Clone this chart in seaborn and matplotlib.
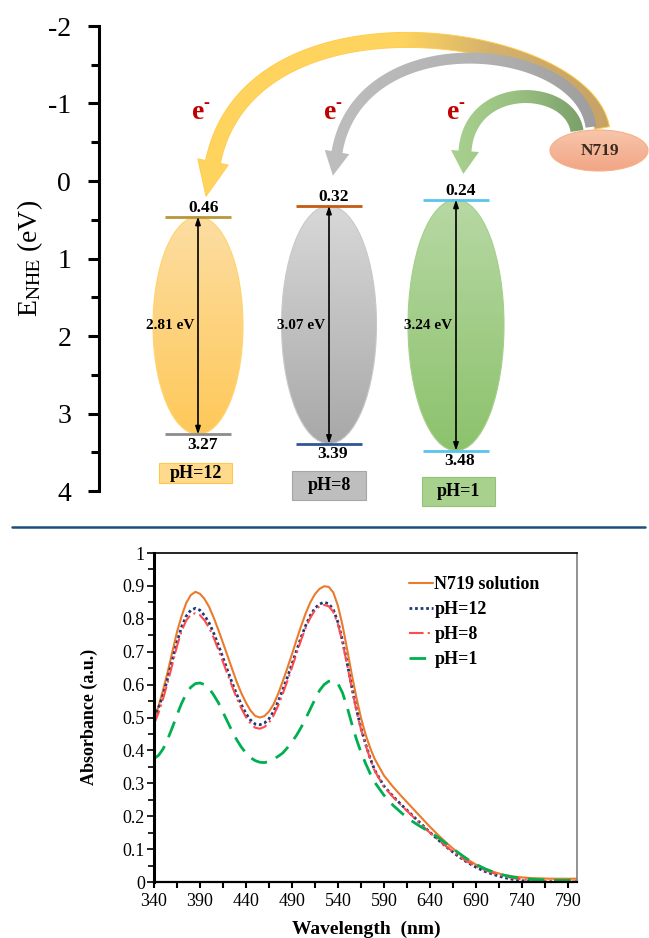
import numpy as np
import pandas as pd
import matplotlib
matplotlib.use("Agg")
import matplotlib.pyplot as plt
import seaborn as sns
import matplotlib.colors as mcolors
from matplotlib.patches import Ellipse, Rectangle, Polygon
from matplotlib.lines import Line2D
from matplotlib.ticker import FixedLocator, MultipleLocator

# ------------------------------------------------------------------ data
# band-edge diagram
phases = ["pH=12", "pH=8", "pH=1"]
cb_edges = [0.46, 0.32, 0.24]
vb_edges = [3.27, 3.39, 3.48]
gap_labels = ["2.81 eV", "3.07 eV", "3.24 eV"]
cb_text = ["0.46", "0.32", "0.24"]
vb_text = ["3.27", "3.39", "3.48"]
energy_ticks = [-2, -1, 0, 1, 2, 3, 4]
energy_tick_labels = ["-2", "-1", "0", "1", "2", "3", "4"]
dye_name = "N719"

# absorption spectra
wavelength = list(range(340, 585, 5)) + list(range(590, 810, 10))
abs_n719 = [0.490, 0.535, 0.585, 0.640, 0.700, 0.760, 0.808, 0.848, 0.872, 0.882,
            0.876, 0.860, 0.836, 0.803, 0.766, 0.727, 0.687, 0.647, 0.608, 0.574,
            0.545, 0.521, 0.505, 0.500, 0.504, 0.518, 0.540, 0.572, 0.610, 0.650,
            0.692, 0.736, 0.778, 0.817, 0.850, 0.875, 0.891, 0.899, 0.897, 0.880,
            0.840, 0.780, 0.708, 0.632, 0.562, 0.500, 0.449, 0.408, 0.374,
            0.324, 0.289, 0.258, 0.228, 0.198, 0.168, 0.140, 0.114, 0.090, 0.070,
            0.053, 0.040, 0.030, 0.022, 0.017, 0.014, 0.012, 0.011, 0.010, 0.010, 0.010, 0.010]
abs_ph12 = [0.500, 0.530, 0.570, 0.620, 0.675, 0.730, 0.775, 0.808, 0.826, 0.832,
            0.826, 0.810, 0.787, 0.756, 0.720, 0.682, 0.643, 0.605, 0.570, 0.539,
            0.512, 0.492, 0.480, 0.478, 0.483, 0.496, 0.518, 0.548, 0.584, 0.622,
            0.662, 0.703, 0.744, 0.780, 0.810, 0.832, 0.845, 0.850, 0.846, 0.828,
            0.790, 0.733, 0.666, 0.594, 0.527, 0.468, 0.420, 0.377, 0.340,
            0.292, 0.260, 0.232, 0.205, 0.178, 0.151, 0.126, 0.102, 0.080, 0.061,
            0.045, 0.032, 0.022, 0.014, 0.008, 0.004, 0.002, 0.001, 0.000, 0.000, 0.000, 0.000]
abs_ph8 = [0.480, 0.515, 0.558, 0.608, 0.662, 0.717, 0.763, 0.795, 0.812, 0.817,
           0.811, 0.795, 0.772, 0.742, 0.706, 0.669, 0.631, 0.594, 0.559, 0.528,
           0.501, 0.482, 0.469, 0.466, 0.471, 0.484, 0.506, 0.536, 0.572, 0.611,
           0.652, 0.694, 0.736, 0.773, 0.803, 0.826, 0.838, 0.842, 0.838, 0.821,
           0.784, 0.728, 0.661, 0.590, 0.523, 0.465, 0.417, 0.375, 0.338,
           0.290, 0.258, 0.230, 0.203, 0.176, 0.150, 0.126, 0.103, 0.082, 0.063,
           0.048, 0.036, 0.026, 0.018, 0.012, 0.008, 0.006, 0.004, 0.003, 0.003, 0.003, 0.003]
abs_ph1 = [0.375, 0.385, 0.405, 0.435, 0.470, 0.508, 0.543, 0.572, 0.592, 0.603,
           0.605, 0.600, 0.588, 0.568, 0.545, 0.516, 0.487, 0.458, 0.432, 0.410,
           0.392, 0.378, 0.369, 0.364, 0.363, 0.366, 0.373, 0.382, 0.392, 0.408,
           0.426, 0.446, 0.470, 0.497, 0.526, 0.555, 0.582, 0.600, 0.610, 0.612,
           0.603, 0.575, 0.532, 0.482, 0.435, 0.395, 0.361, 0.330, 0.303,
           0.264, 0.233, 0.208, 0.186, 0.168, 0.152, 0.133, 0.112, 0.091, 0.071,
           0.054, 0.040, 0.029, 0.021, 0.015, 0.011, 0.008, 0.007, 0.006, 0.005, 0.005, 0.005]
series_names = ["N719 solution", "pH=12", "pH=8", "pH=1"]
x_ticks = [340, 390, 440, 490, 540, 590, 640, 690, 740, 790]
x_tick_labels = ["340", "390", "440", "490", "540", "590", "640", "690", "740", "790"]
y_ticks = [0, 0.1, 0.2, 0.3, 0.4, 0.5, 0.6, 0.7, 0.8, 0.9, 1.0]
y_tick_labels = ["0", "0.1", "0.2", "0.3", "0.4", "0.5", "0.6", "0.7", "0.8", "0.9", "1"]

# ------------------------------------------------------------------ style
sns.set_style("ticks")
plt.rcParams["font.family"] = ["Liberation Serif", "DejaVu Serif"]
plt.rcParams["mathtext.fontset"] = "stix"
plt.rcParams.update({"text.color": "black", "axes.labelcolor": "black",
                     "xtick.color": "black", "ytick.color": "black"})

W, H = 649, 938
fig = plt.figure(figsize=(W / 100, H / 100), dpi=100)


def fx(px):
    return px / W


def fy(py):
    return 1 - py / H


def gradient_in(ax, patch, stops, extent, horizontal=False, z=1.0):
    pos = [s[0] for s in stops]
    cols = np.array([mcolors.to_rgb(s[1]) for s in stops])
    t = np.linspace(0, 1, 256)
    rgb = np.stack([np.interp(t, pos, cols[:, k]) for k in range(3)], axis=-1)
    if horizontal:
        img = np.repeat(rgb[None, :, :], 2, axis=0)
    else:
        img = np.repeat(rgb[:, None, :], 2, axis=1)
    im = ax.imshow(img, extent=extent, origin="upper", aspect="auto",
                   interpolation="bilinear", zorder=z)
    im.set_clip_path(patch)
    return im


# ------------------------------------------------------------------ top: band diagram
ax1 = fig.add_axes([fx(99), fy(491), (W - 99) / W, (491 - 26) / H])
ax1.set_xlim(99, 649)
ax1.set_ylim(4, -2)
for s in ["top", "right", "bottom"]:
    ax1.spines[s].set_visible(False)
ax1.spines["left"].set_linewidth(2.2)
ax1.spines["left"].set_color("black")
ax1.set_xticks([])
ax1.yaxis.set_major_locator(FixedLocator(energy_ticks))
ax1.set_yticklabels(energy_tick_labels, fontsize=20)
ax1.yaxis.set_minor_locator(MultipleLocator(0.5))
ax1.tick_params(axis="y", which="major", direction="out", length=8, width=2.2, pad=12)
ax1.tick_params(axis="y", which="minor", direction="out", length=6, width=2.2)
fig.text(fx(30), fy(258), r"E$_{\mathrm{NHE}}$ (eV)", rotation=90,
         ha="center", va="center", fontsize=20)

# layout of the three columns (pixel-like x units)
col_x = [198, 329, 456]
ell_w = [90, 95, 96]
lab_x = [204, 334, 461]
ell_stops = [[(0, "#FCDDA2"), (1, "#FFC95A")],
             [(0, "#D8D8D8"), (1, "#A8A8A8")],
             [(0, "#B7D8A4"), (1, "#8CC26C")]]
ell_edge = ["#FFD46E", "#C8C8C8", "#A4CF88"]
cb_color = ["#B8963A", "#C55A11", "#5CC3EC"]
vb_color = ["#8C8C8C", "#2F5597", "#5CC3EC"]
box_xy = [(159, 3.64, 73, 0.26), (292, 3.74, 74, 0.38), (422, 3.82, 73, 0.37)]
box_fc = ["#FFD98C", "#BEBEBE", "#A9D18E"]
box_ec = ["#FFC84A", "#A6A6A6", "#92C274"]

for i in range(3):
    cx, cb, vb = col_x[i], cb_edges[i], vb_edges[i]
    ell = Ellipse((cx, (cb + vb) / 2), width=ell_w[i], height=vb - cb,
                  facecolor="none", edgecolor=ell_edge[i], lw=0.8, zorder=2)
    ax1.add_patch(ell)
    gradient_in(ax1, ell, ell_stops[i],
                (cx - ell_w[i] / 2, cx + ell_w[i] / 2, vb, cb), z=1.5)
    ax1.hlines(cb, cx - 33, cx + 33, colors=cb_color[i], lw=2, zorder=3)
    ax1.hlines(vb, cx - 33, cx + 33, colors=vb_color[i], lw=2, zorder=3)
    ax1.annotate("", xy=(cx, vb), xytext=(cx, cb),
                 arrowprops=dict(arrowstyle="<|-|>,head_length=0.45,head_width=0.15",
                                 lw=1.2, color="black", shrinkA=0, shrinkB=0),
                 zorder=4)
    ax1.text(lab_x[i], cb - 0.01, cb_text[i], ha="center", va="bottom",
             fontsize=12.5, fontweight="bold", zorder=5)
    ax1.text(lab_x[i] - 1, vb + 0.03, vb_text[i], ha="center", va="top",
             fontsize=12.5, fontweight="bold", zorder=5)
    ax1.text(cx - 4, 1.87, gap_labels[i], ha="right", va="center",
             fontsize=11, fontweight="bold", zorder=5)
    bx, by, bw, bh = box_xy[i]
    ax1.add_patch(Rectangle((bx, by), bw, bh, facecolor=box_fc[i],
                            edgecolor=box_ec[i], lw=0.8, zorder=2, clip_on=False))
    ax1.text(bx + bw / 2, by + bh / 2, phases[i], ha="center", va="center",
             fontsize=13, fontweight="bold", zorder=5, clip_on=False)

# electron labels  e^-
for ex in [198, 330, 453]:
    ax1.text(ex, -0.88, "e", ha="center", va="center", fontsize=20,
             fontweight="bold", color="#C00000", zorder=7)
    ax1.text(ex + 8, -1.0, "-", ha="center", va="center", fontsize=13,
             fontweight="bold", color="#C00000", zorder=7)

ax1.set_xlim(99, 649)
ax1.set_ylim(4, -2)

# ------------------------------------------------------------------ overlay (pixel units) for arrows + dye
axo = fig.add_axes([0, 0, 1, 1])
axo.set_xlim(0, W)
axo.set_ylim(H, 0)
axo.axis("off")
axo.patch.set_alpha(0)


def curved_arrow(ax, ctrl, width, head_w, head_len, stops, edge, z):
    P = np.array(ctrl, float)
    t = np.linspace(0, 1, 240)[:, None]
    c = ((1 - t) ** 3) * P[0] + 3 * ((1 - t) ** 2) * t * P[1] \
        + 3 * (1 - t) * t ** 2 * P[2] + t ** 3 * P[3]
    d = 3 * (1 - t) ** 2 * (P[1] - P[0]) + 6 * (1 - t) * t * (P[2] - P[1]) \
        + 3 * t ** 2 * (P[3] - P[2])
    d = d / np.linalg.norm(d, axis=1)[:, None]
    nrm = np.column_stack([-d[:, 1], d[:, 0]])
    left = c + nrm * width / 2
    right = c - nrm * width / 2
    tip = P[3] + d[-1] * head_len
    hl = P[3] + nrm[-1] * head_w / 2
    hr = P[3] - nrm[-1] * head_w / 2
    poly = np.vstack([left, hl, tip, hr, right[::-1]])
    patch = Polygon(poly, closed=True, facecolor="none", edgecolor=edge,
                    lw=0.7, zorder=z)
    ax.add_patch(patch)
    x0, x1 = poly[:, 0].min(), poly[:, 0].max()
    y0, y1 = poly[:, 1].min(), poly[:, 1].max()
    rel = [((sx - x0) / (x1 - x0), col) for sx, col in stops]
    rel = [(min(max(p, 0), 1), col) for p, col in rel]
    gradient_in(ax, patch, rel, (x0, x1, y1, y0), horizontal=True, z=z - 0.05)


# yellow (pH=12), gray (pH=8), green (pH=1)
curved_arrow(axo, [(602, 128), (585, 30), (250, -20), (213, 162)], 15, 31, 35,
             [(180, "#FFD45E"), (400, "#FFD45E"), (490, "#D5B26C"), (620, "#C6A267")],
             "#FFCC4D", 3)
curved_arrow(axo, [(591, 127), (580, 42), (360, 20), (337, 152)], 11, 25, 24,
             [(310, "#BEBEBE"), (480, "#B2B2B2"), (610, "#9E9E9E")], "none", 3.2)
curved_arrow(axo, [(577, 131), (570, 84), (470, 80), (465, 151)], 13, 28, 23,
             [(440, "#A9D18E"), (520, "#98BF80"), (590, "#7B9F69")], "none", 3.4)

# dye ellipse
dye = Ellipse((599, 150.5), width=98, height=41, facecolor="none",
              edgecolor="#F4B183", lw=0.8, zorder=6)
axo.add_patch(dye)
gradient_in(axo, dye, [(0, "#F8C6AC"), (1, "#F2A584")], (550, 648, 171, 130), z=5.9)
axo.text(600, 151, dye_name, ha="center", va="center", fontsize=12.5,
         fontweight="bold", color="#3A2A1E", zorder=7)
axo.set_xlim(0, W)
axo.set_ylim(H, 0)

# divider line
fig.add_artist(Line2D([fx(12), fx(645)], [fy(527), fy(527)],
                      transform=fig.transFigure, color="#1F4E79", lw=1.8))

# ------------------------------------------------------------------ bottom: spectra
ax2 = fig.add_axes([fx(154), fy(882), (577 - 154) / W, (882 - 553) / H])
n = len(wavelength)
df = pd.DataFrame({
    "Wavelength": wavelength * 4,
    "Absorbance": abs_n719 + abs_ph12 + abs_ph8 + abs_ph1,
    "Sample": [series_names[0]] * n + [series_names[1]] * n
              + [series_names[2]] * n + [series_names[3]] * n,
})
palette = {series_names[0]: "#EB7A2A", series_names[1]: "#1F3A7A",
           series_names[2]: "#FF4B4B", series_names[3]: "#00B050"}
dashes = {series_names[0]: "", series_names[1]: (1, 1),
          series_names[2]: (7, 2, 1, 2), series_names[3]: (6, 3.5)}
sns.lineplot(data=df, x="Wavelength", y="Absorbance", hue="Sample", style="Sample",
             hue_order=series_names, style_order=series_names,
             palette=palette, dashes=dashes, ax=ax2, legend=False, estimator=None)
widths = [1.5, 2.0, 1.5, 2.0]
lines = ax2.get_lines()[:4]
for ln, w in zip(lines, widths):
    ln.set_linewidth(w)

ax2.set_xlim(340, 800)
ax2.set_ylim(0, 1)
ax2.xaxis.set_major_locator(FixedLocator(x_ticks))
ax2.set_xticklabels(x_tick_labels, fontsize=13)
ax2.xaxis.set_minor_locator(FixedLocator(list(range(365, 800, 50))))
ax2.yaxis.set_major_locator(FixedLocator(y_ticks))
ax2.set_yticklabels(y_tick_labels, fontsize=13)
ax2.yaxis.set_minor_locator(MultipleLocator(0.05))
ax2.tick_params(axis="y", which="major", direction="out", length=5, width=1.2, pad=1.5)
ax2.tick_params(axis="y", which="minor", direction="out", length=4, width=1.2)
ax2.tick_params(axis="x", which="both", direction="out", length=4, width=1.5, pad=4)
ax2.set_xlabel("")
ax2.set_ylabel("")
ax2.spines["left"].set_linewidth(2.2)
ax2.spines["bottom"].set_linewidth(1.6)
ax2.spines["top"].set_linewidth(1.2)
ax2.spines["right"].set_linewidth(1.2)
for s in ["left", "bottom", "top"]:
    ax2.spines[s].set_color("black")
ax2.spines["right"].set_color("#7F7F7F")

ax2.legend(lines, series_names, loc="upper left", bbox_to_anchor=(0.603, 0.93),
           frameon=False, prop={"weight": "bold", "size": 13},
           handlelength=1.3, handletextpad=0.1, labelspacing=0.45,
           borderaxespad=0, borderpad=0)

fig.text(fx(89), fy(717), "Absorbance (a.u.)", rotation=90, ha="center",
         va="center", fontsize=13, fontweight="bold")
fig.text(fx(366), fy(929), "Wavelength  (nm)", ha="center", va="center",
         fontsize=14, fontweight="bold")

fig.savefig("out.png", dpi=100)
